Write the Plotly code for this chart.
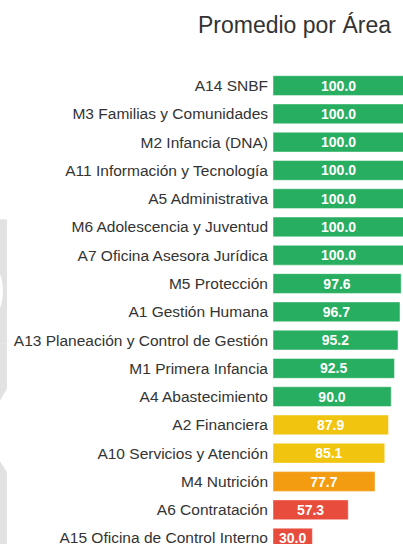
import plotly.graph_objects as go

# ---- data ----
areas = [
    "A14 SNBF",
    "M3 Familias y Comunidades",
    "M2 Infancia (DNA)",
    "A11 Información y Tecnología",
    "A5 Administrativa",
    "M6 Adolescencia y Juventud",
    "A7 Oficina Asesora Jurídica",
    "M5 Protección",
    "A1 Gestión Humana",
    "A13 Planeación y Control de Gestión",
    "M1 Primera Infancia",
    "A4 Abastecimiento",
    "A2 Financiera",
    "A10 Servicios y Atención",
    "M4 Nutrición",
    "A6 Contratación",
    "A15 Oficina de Control Interno",
]
promedio = [100.0, 100.0, 100.0, 100.0, 100.0, 100.0, 100.0,
            97.6, 96.7, 95.2, 92.5, 90.0, 87.9, 85.1, 77.7, 57.3, 30.0]


def color_for(v):
    if v >= 90:
        return "#27ae60"
    if v >= 80:
        return "#f1c40f"
    if v >= 60:
        return "#f39c12"
    return "#e74c3c"


colors = [color_for(v) for v in promedio]

W, H = 403, 546
ML, MT = 273, 70
PW, PH = W - ML, H - MT


def px_x(x):
    return (x - ML) / PW


def px_y(y):
    return (H - y) / PH


fig = go.Figure(
    go.Bar(
        x=promedio,
        y=areas,
        orientation="h",
        marker=dict(color=colors, line=dict(color="rgba(255,255,255,0.45)", width=1)),
        text=promedio,
        texttemplate="%{text:.1f}",
        textposition="inside",
        insidetextanchor="middle",
        constraintext="none",
        insidetextfont=dict(family="Liberation Sans, Arial", size=14, color="white", weight="bold"),
        hoverinfo="skip",
    )
)

# watermark shapes on the left edge
gray = "#e2e2e2"
wm_paths = [
    [(0, 220), (7, 220), (7, 345), (0, 345)],
    [(0, 345), (7, 345), (7, 390), (0, 402)],
    [(0, 463), (7, 474), (7, 546), (0, 546)],
]
shapes = []
for pts in wm_paths:
    d = "M " + " L ".join(f"{px_x(x):.4f},{px_y(y):.4f}" for x, y in pts) + " Z"
    shapes.append(dict(type="path", xref="paper", yref="paper", path=d,
                       fillcolor=gray, line=dict(width=0), layer="below"))
# crescent bite
shapes.append(dict(type="circle", xref="paper", yref="paper",
                   x0=px_x(-30), x1=px_x(3), y0=px_y(322), y1=px_y(262),
                   fillcolor="white", line=dict(width=0), layer="below"))

fig.update_layout(
    width=W,
    height=H,
    margin=dict(l=ML, r=0, t=MT, b=0),
    paper_bgcolor="white",
    plot_bgcolor="rgba(0,0,0,0)",
    font=dict(family="Liberation Sans, Arial", color="#333333"),
    bargap=0.3,
    showlegend=False,
    shapes=shapes,
    title=dict(
        text="Promedio por Área",
        font=dict(size=23, color="#333333"),
        xref="container", x=391 / W, xanchor="right",
        yref="container", y=1 - 25 / H, yanchor="middle",
    ),
    xaxis=dict(range=[0, 99.0], visible=False, fixedrange=True),
    yaxis=dict(
        categoryorder="array",
        categoryarray=areas,
        range=[16.21, -0.55],
        showgrid=False,
        showline=False,
        ticks="",
        ticklabelstandoff=4,
        fixedrange=True,
        tickfont=dict(size=15.5, color="#333333"),
    ),
)

fig.write_html(
    "out.html",
    config={"displayModeBar": False},
    post_script="document.body.style.margin='0';document.body.style.overflow='hidden';",
)
